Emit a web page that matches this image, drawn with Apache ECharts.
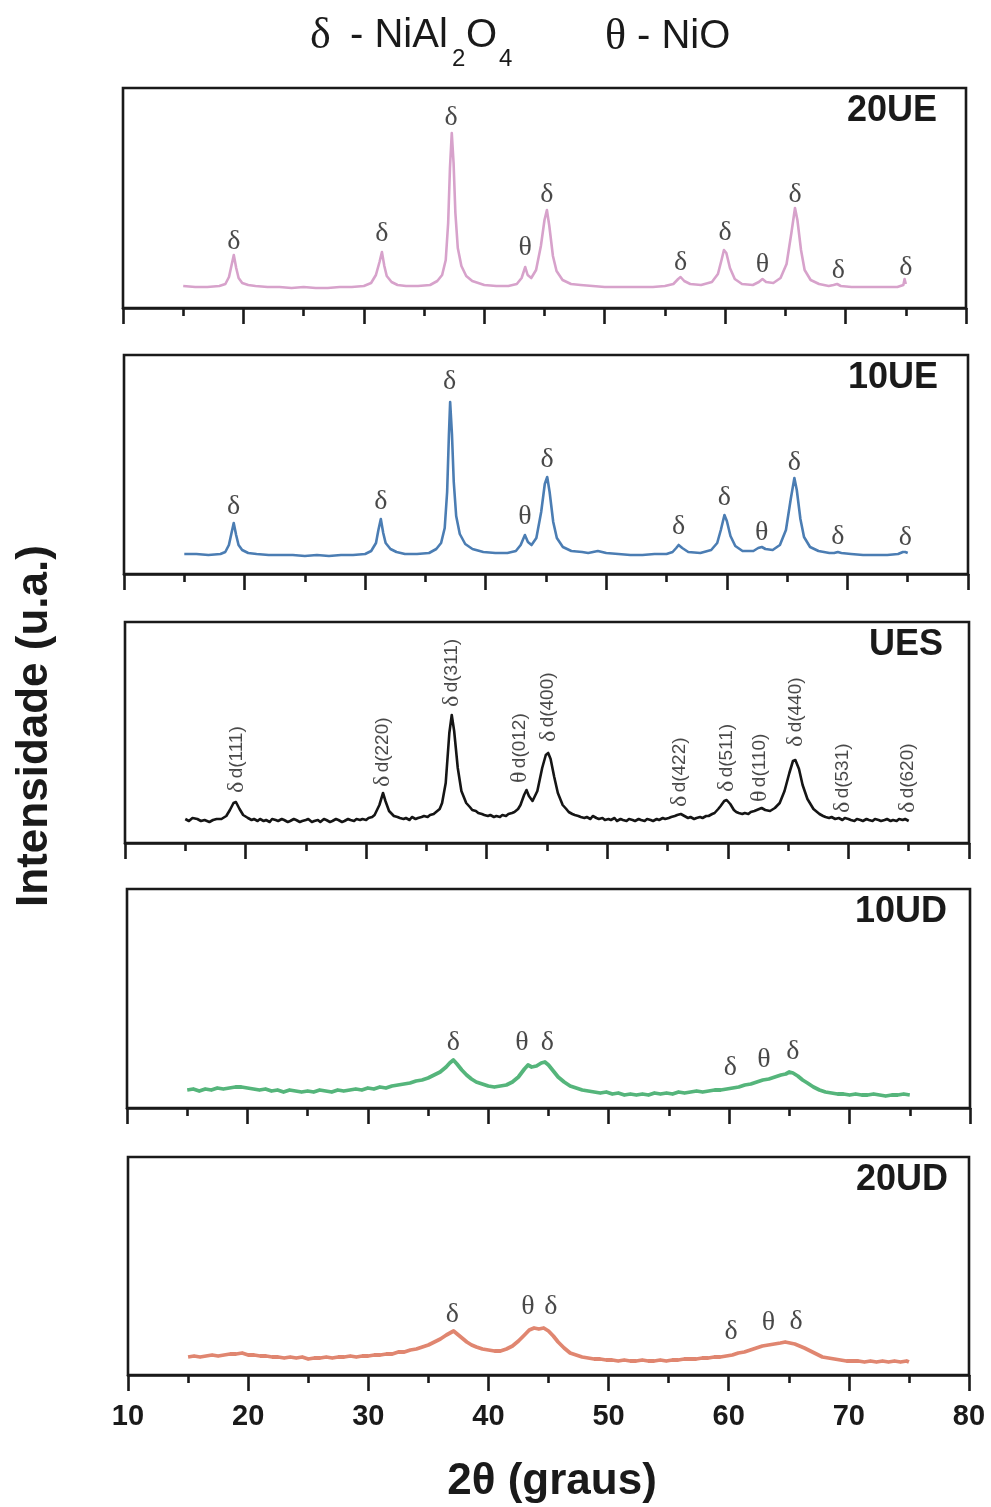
<!DOCTYPE html>
<html>
<head>
<meta charset="utf-8">
<script src="https://cdn.jsdelivr.net/npm/echarts@6/dist/echarts.min.js"></script>
<style>html,body{margin:0;padding:0;background:#fff}#c{width:991px;height:1507px}</style>
</head>
<body>
<div id="c"></div>
<script>
// ---------- DATA (2θ in degrees, intensity in arbitrary units) ----------
const panelNames = ['20UE', '10UE', 'UES', '10UD', '20UD'];
const xTickLabels = ['10', '20', '30', '40', '50', '60', '70', '80'];

const ue20 = [[15,22],[16,21],[17,21],[18,22],[18.5,24],[18.8,31],[19.0,42],[19.2,53],[19.4,40],[19.6,30],[19.9,25],[20.4,23],[21,22],[22,21],[23,21],[24,20],[25,21],[26,20],[27,20],[28,21],[29,21],[30,22],[30.6,25],[31.0,33],[31.3,46],[31.5,56],[31.7,42],[31.9,32],[32.3,26],[32.8,23],[33.5,22],[34.5,22],[35.5,23],[36.1,27],[36.5,33],[36.8,48],[37.0,85],[37.15,140],[37.3,175],[37.45,145],[37.6,95],[37.8,60],[38.1,42],[38.5,32],[39,27],[40,23],[41,22],[42,22],[42.7,24],[43.1,30],[43.4,41],[43.6,33],[43.9,30],[44.3,38],[44.7,62],[45.0,88],[45.2,98],[45.4,82],[45.7,52],[46.0,37],[46.5,28],[47.2,24],[48,23],[49,22],[50,21],[51,21],[52,21],[53,21],[54,21],[55,22],[55.7,24],[56.1,29],[56.3,31],[56.6,27],[57.1,24],[58,23],[58.9,26],[59.4,34],[59.7,48],[59.9,58],[60.1,55],[60.4,40],[60.8,29],[61.4,24],[62.3,23],[62.8,26],[63.1,29],[63.4,26],[64,25],[64.6,30],[65.1,44],[65.5,75],[65.8,100],[66.0,88],[66.3,58],[66.6,38],[67.1,28],[67.8,24],[68.6,22],[69.0,23],[69.3,24],[69.6,22],[70.5,21],[71.5,21],[72.5,21],[73.5,21],[74.3,21],[74.8,23],[74.9,29],[75,24]];

const ue10 = [[15,20],[16,20],[17,19],[18,20],[18.4,22],[18.7,29],[18.9,40],[19.1,51],[19.3,39],[19.5,29],[19.8,24],[20.3,21],[21,20],[22,19],[23,19],[24,19],[25,18],[26,19],[27,18],[28,19],[29,19],[30,20],[30.5,23],[30.9,31],[31.1,44],[31.3,55],[31.5,41],[31.7,31],[32.1,25],[32.6,22],[33.3,20],[34.3,20],[35.3,21],[35.9,25],[36.3,31],[36.6,46],[36.8,82],[36.95,140],[37.05,172],[37.2,140],[37.35,92],[37.55,58],[37.85,40],[38.3,30],[38.9,25],[39.8,22],[40.8,21],[41.8,21],[42.5,23],[42.9,29],[43.25,39],[43.5,32],[43.8,29],[44.2,36],[44.6,62],[44.9,90],[45.1,97],[45.3,82],[45.6,52],[45.9,36],[46.4,27],[47.1,23],[48,22],[48.5,21],[49.3,23],[50,21],[51,20],[52,19],[53,19],[54,20],[55,20],[55.5,22],[55.8,26],[56.0,29],[56.3,26],[56.8,22],[57.8,21],[58.7,24],[59.2,31],[59.5,44],[59.8,59],[60.0,53],[60.3,38],[60.7,28],[61.3,23],[62.2,23],[62.6,26],[62.9,27],[63.2,25],[63.8,24],[64.4,29],[64.9,44],[65.3,75],[65.6,96],[65.8,84],[66.1,55],[66.4,37],[66.9,27],[67.6,23],[68.5,21],[68.9,21],[69.2,22],[69.5,21],[70.3,20],[71.3,19],[72.3,19],[73.3,19],[74.2,20],[74.6,22],[74.8,22],[75,21]];

const ues = [[15,24],[15.3,22],[15.6,25],[16,24],[16.3,22],[16.6,23],[17,21],[17.3,23],[17.6,24],[18,24],[18.4,27],[18.7,33],[19.0,40],[19.2,41],[19.5,34],[19.8,28],[20.2,25],[20.5,23],[20.7,24],[21.0,22],[21.2,24],[21.5,22],[21.7,23],[22.0,21],[22.2,24],[22.5,23],[22.7,22],[23.0,24],[23.2,23],[23.5,21],[23.7,22],[24.0,24],[24.2,23],[24.5,21],[24.7,22],[25.0,23],[25.2,24],[25.5,21],[25.7,22],[26.0,23],[26.2,21],[26.5,24],[26.7,23],[27.0,21],[27.2,22],[27.5,24],[27.7,23],[28.0,21],[28.2,22],[28.5,24],[28.7,23],[29.0,22],[29.2,24],[29.5,23],[29.7,24],[30.0,23],[30.2,25],[30.5,26],[30.7,28],[31.1,38],[31.4,50],[31.6,42],[31.9,32],[32.3,27],[32.6,26],[32.8,25],[33.1,24],[33.3,25],[33.6,23],[33.8,26],[34.1,24],[34.3,25],[34.6,26],[34.8,27],[35.1,26],[35.3,28],[35.6,29],[35.8,31],[36.1,34],[36.3,40],[36.6,60],[36.9,110],[37.1,128],[37.3,112],[37.6,75],[37.9,52],[38.3,40],[38.6,36],[38.8,33],[39.1,32],[39.3,30],[39.6,29],[39.8,28],[40.1,27],[40.3,28],[40.6,26],[40.8,27],[41.1,26],[41.3,28],[41.6,27],[41.8,29],[42.1,30],[42.3,31],[42.6,34],[42.8,38],[43.1,48],[43.3,53],[43.5,47],[43.8,42],[44.2,52],[44.6,75],[44.9,88],[45.1,90],[45.3,84],[45.6,66],[45.9,50],[46.3,38],[46.6,34],[46.8,31],[47.1,29],[47.3,28],[47.6,27],[47.8,26],[48.1,25],[48.3,26],[48.6,24],[48.8,27],[49.1,25],[49.3,24],[49.6,25],[49.8,23],[50.1,24],[50.3,23],[50.6,25],[50.8,22],[51.1,24],[51.3,23],[51.6,22],[51.8,24],[52.1,23],[52.3,22],[52.6,24],[52.8,23],[53.1,22],[53.3,24],[53.6,23],[53.8,22],[54.1,24],[54.3,23],[54.6,25],[54.8,24],[55.1,25],[55.3,26],[55.6,27],[55.8,28],[56.1,29],[56.4,27],[56.7,25],[56.9,26],[57.2,24],[57.4,25],[57.7,26],[57.9,25],[58.2,27],[58.4,27],[58.7,29],[58.9,30],[59.2,34],[59.4,37],[59.7,42],[59.9,43],[60.2,39],[60.5,33],[60.7,31],[60.9,30],[61.2,29],[61.4,30],[61.7,29],[61.9,31],[62.2,32],[62.4,33],[62.8,35],[63.1,33],[63.5,32],[63.9,35],[64.3,40],[64.7,52],[65.1,70],[65.4,82],[65.6,83],[65.9,74],[66.2,58],[66.6,44],[66.9,38],[67.1,34],[67.4,31],[67.6,29],[67.9,27],[68.1,26],[68.4,25],[68.6,26],[68.9,24],[69.2,25],[69.5,23],[69.7,25],[70.0,24],[70.2,23],[70.5,22],[70.7,24],[71.0,23],[71.2,22],[71.5,24],[71.7,23],[72.0,22],[72.2,24],[72.5,23],[72.7,22],[73.0,23],[73.2,24],[73.5,22],[73.7,23],[74.0,22],[74.2,24],[74.5,23],[74.7,24],[75,22]];

const ud10 = [[15,18],[15.5,19],[16,17],[16.5,19],[17,18],[17.5,20],[18,19],[18.5,20],[19,21],[19.5,21],[20,20],[20.5,19],[21,18],[21.5,19],[22,17],[22.5,18],[23,16],[23.5,18],[24,17],[24.5,16],[25,17],[25.5,16],[26,18],[26.5,17],[27,16],[27.5,18],[28,17],[28.5,18],[29,19],[29.5,18],[30,20],[30.5,19],[31,21],[31.5,20],[32,22],[32.5,23],[33,24],[33.5,25],[34,27],[34.5,28],[35,30],[35.5,33],[36,36],[36.5,41],[36.8,45],[37.1,48],[37.4,44],[37.8,38],[38.2,33],[38.6,29],[39,26],[39.5,24],[40,22],[40.5,21],[41,22],[41.5,23],[42,26],[42.5,31],[43,39],[43.3,43],[43.6,41],[44,42],[44.4,45],[44.7,46],[45,43],[45.4,37],[45.8,31],[46.3,26],[46.8,22],[47.3,20],[47.8,18],[48.3,17],[48.8,16],[49.3,15],[49.8,16],[50.3,14],[50.8,15],[51.3,13],[51.8,14],[52.3,13],[52.8,14],[53.3,13],[53.8,15],[54.3,14],[54.8,15],[55.3,14],[55.8,16],[56.3,15],[56.8,16],[57.3,17],[57.8,16],[58.3,17],[58.8,18],[59.3,18],[59.8,19],[60.3,20],[60.8,21],[61.3,23],[61.8,24],[62.3,26],[62.8,28],[63.3,29],[63.8,31],[64.3,33],[64.7,34],[65.0,36],[65.3,35],[65.7,32],[66.1,28],[66.5,25],[67,21],[67.5,18],[68,16],[68.5,15],[69,14],[69.5,14],[70,13],[70.5,14],[71,13],[71.5,13],[72,14],[72.5,13],[73,12],[73.5,13],[74,13],[74.5,14],[75,13]];

const ud20 = [[15,18],[15.5,19],[16,18],[16.5,19],[17,20],[17.5,19],[18,20],[18.5,21],[19,21],[19.5,22],[20,20],[20.5,20],[21,19],[21.5,19],[22,18],[22.5,18],[23,17],[23.5,18],[24,17],[24.5,18],[25,16],[25.5,17],[26,17],[26.5,18],[27,17],[27.5,18],[28,18],[28.5,19],[29,18],[29.5,19],[30,19],[30.5,20],[31,20],[31.5,21],[32,21],[32.5,23],[33,23],[33.5,25],[34,26],[34.5,28],[35,30],[35.5,33],[36,36],[36.5,40],[36.8,42],[37.1,44],[37.4,41],[37.8,37],[38.2,33],[38.6,30],[39,28],[39.5,26],[40,25],[40.5,24],[41,24],[41.5,26],[42,29],[42.5,34],[43,40],[43.4,45],[43.8,47],[44.2,46],[44.6,47],[45,44],[45.4,39],[45.8,33],[46.3,27],[46.8,22],[47.3,20],[47.8,18],[48.3,17],[48.8,16],[49.3,16],[49.8,15],[50.3,15],[50.8,14],[51.3,15],[51.8,14],[52.3,14],[52.8,15],[53.3,14],[53.8,14],[54.3,15],[54.8,14],[55.3,15],[55.8,15],[56.3,16],[56.8,16],[57.3,16],[57.8,17],[58.3,17],[58.8,18],[59.3,18],[59.8,19],[60.3,20],[60.8,22],[61.3,23],[61.8,25],[62.3,27],[62.8,29],[63.3,30],[63.8,31],[64.3,32],[64.7,33],[65.1,32],[65.5,31],[65.9,29],[66.3,27],[66.8,24],[67.3,21],[67.8,18],[68.3,17],[68.8,16],[69.3,15],[69.8,14],[70.3,14],[70.8,14],[71.3,13],[71.8,14],[72.3,13],[72.8,14],[73.3,13],[73.8,14],[74.3,13],[74.8,14],[75,13]];

// phase markers: [2θ, label height, symbol]
const marks20UE = [[19.2,66,'δ'],[31.5,74,'δ'],[37.25,190,'δ'],[43.4,60,'θ'],[45.2,113,'δ'],[56.3,45,'δ'],[60.0,75,'δ'],[63.1,43,'θ'],[65.8,113,'δ'],[69.4,37,'δ'],[75.0,40,'δ']];
const marks10UE = [[19.1,67,'δ'],[31.3,72,'δ'],[37.0,192,'δ'],[43.25,57,'θ'],[45.1,114,'δ'],[56.0,47,'δ'],[59.8,76,'δ'],[62.9,41,'θ'],[65.6,111,'δ'],[69.2,37,'δ'],[74.8,36,'δ']];
// UES: [2θ, label start height, symbol, reflection]
const marksUES = [[19.3,50,'δ','d(111)'],[31.4,56,'δ','d(220)'],[37.1,136,'δ','d(311)'],[42.75,60,'θ','d(012)'],[45.1,101,'δ','d(400)'],[56.0,36,'δ','d(422)'],[59.9,51,'δ','d(511)'],[62.65,41,'θ','d(110)'],[65.6,96,'δ','d(440)'],[69.5,30,'δ','d(531)'],[74.9,30,'δ','d(620)']];
const marks10UD = [[37.1,65,'δ'],[42.8,65,'θ'],[44.9,65,'δ'],[60.1,40,'δ'],[62.9,48,'θ'],[65.3,56,'δ']];
const marks20UD = [[37.0,60,'δ'],[43.3,68,'θ'],[45.2,68,'δ'],[60.2,43,'δ'],[63.3,52,'θ'],[65.6,53,'δ']];

// ---------- LAYOUT / STYLE ----------
const curves = [ue20, ue10, ues, ud10, ud20];
const markSets = [marks20UE, marks10UE, marksUES, marks10UD, marks20UD];
const colors = ['#d7a2cb', '#4b7db3', '#151515', '#55b57b', '#e08670'];
const widths = [2.6, 2.6, 2.6, 3.8, 3.8];
const frames = [
  {top: 88, height: 220, left: 123, right: 25},
  {top: 355, height: 219, left: 124, right: 23},
  {top: 622, height: 221, left: 125, right: 22},
  {top: 889, height: 219, left: 127, right: 21},
  {top: 1157, height: 218, left: 128, right: 22}
];
const nameRight = [937, 938, 943, 947, 948];
const ink = '#1a1a1a';
const SANS = '"Liberation Sans", Arial, sans-serif';
const SERIF = '"Liberation Serif", "Times New Roman", serif';

const grid = [], xAxis = [], yAxis = [], series = [];
frames.forEach((f, i) => {
  grid.push({top: f.top, height: f.height, left: f.left, right: f.right, show: true,
    borderColor: ink, borderWidth: 2.6, backgroundColor: 'transparent'});
  const last = i === frames.length - 1;
  xAxis.push({gridIndex: i, type: 'value', min: 10, max: 80, interval: 10,
    axisLine: {show: true, lineStyle: {color: ink, width: 2.6}},
    axisTick: {show: true, length: 16, lineStyle: {color: ink, width: 2.6}},
    minorTick: {show: true, splitNumber: 2, length: 8, lineStyle: {color: ink, width: 2.6}},
    splitLine: {show: false}, minorSplitLine: {show: false},
    axisLabel: {show: last, margin: 27, color: ink, fontSize: 29, fontWeight: 'bold', fontFamily: SANS,
      formatter: v => xTickLabels[Math.round((v - 10) / 10)]}
  });
  yAxis.push({gridIndex: i, type: 'value', min: 0, max: f.height, show: false, splitLine: {show: false}});
  series.push({type: 'line', xAxisIndex: i, yAxisIndex: i, data: curves[i], showSymbol: false,
    symbol: 'none', smooth: false, lineStyle: {color: colors[i], width: widths[i], join: 'round'}, z: 2});
  if (i === 2) {
    series.push({type: 'scatter', xAxisIndex: i, yAxisIndex: i, data: markSets[i], symbolSize: 0, z: 3,
      label: {show: true, position: 'inside', rotate: 90, align: 'left', verticalAlign: 'middle',
        formatter: p => '{g|' + p.data[2] + '} {s|' + p.data[3] + '}',
        rich: {g: {fontFamily: SERIF, fontSize: 24, color: ink}, s: {fontFamily: SANS, fontSize: 19, color: ink}}}
    });
  } else {
    series.push({type: 'scatter', xAxisIndex: i, yAxisIndex: i, data: markSets[i], symbolSize: 0, z: 3,
      label: {show: true, position: 'inside', formatter: p => p.data[2],
        fontFamily: SERIF, fontSize: 28, color: ink}
    });
  }
});

const graphic = [];
panelNames.forEach((n, i) => {
  graphic.push({type: 'text', x: nameRight[i], y: frames[i].top + 23,
    style: {text: n, fill: ink, font: 'bold 36px ' + SANS, textAlign: 'right', textVerticalAlign: 'middle'}});
});
// header legend
const hdr = [
  ['δ', 310, 36, '44px ' + SERIF],
  ['- NiAl', 350, 36, '40px ' + SANS],
  ['2', 452, 59, '24px ' + SANS],
  ['O', 466, 36, '40px ' + SANS],
  ['4', 499, 59, '24px ' + SANS],
  ['θ', 605, 37, '44px ' + SERIF],
  ['- NiO', 637, 37, '40px ' + SANS]
];
hdr.forEach(h => graphic.push({type: 'text', x: h[1], y: h[2],
  style: {text: h[0], fill: ink, font: h[3], textAlign: 'left', textVerticalAlign: 'middle'}}));
graphic.push({type: 'text', x: 552, y: 1482,
  style: {text: '2θ (graus)', fill: ink, font: 'bold 44px ' + SANS, textAlign: 'center', textVerticalAlign: 'middle'}});
graphic.push({type: 'text', x: 35, y: 726, rotation: Math.PI / 2,
  style: {text: 'Intensidade (u.a.)', fill: ink, font: 'bold 44px ' + SANS, textAlign: 'center', textVerticalAlign: 'middle'}});

const chart = echarts.init(document.getElementById('c'), null, {renderer: 'canvas'});
chart.setOption({animation: false, backgroundColor: '#fff', grid, xAxis, yAxis, series, graphic});
</script>
</body>
</html>
